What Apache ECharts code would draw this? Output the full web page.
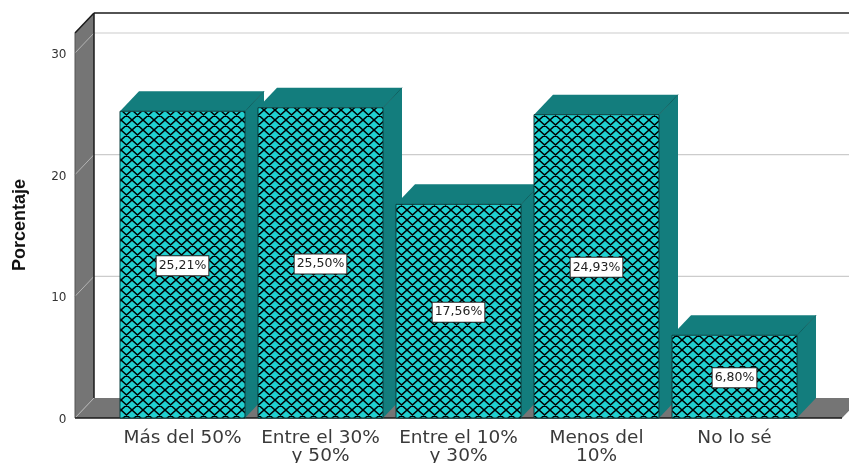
<!DOCTYPE html>
<html>
<head>
<meta charset="utf-8">
<style>html,body{margin:0;padding:0;background:#fff}#chart{width:849px;height:463px}</style>
<script src="https://cdn.jsdelivr.net/npm/echarts@6/dist/echarts.min.js"></script>
</head>
<body>
<div id="chart"></div>
<script>
// Survey answers and their share of respondents, in percent
const categories = ['Más del 50%', 'Entre el 30%\ny 50%', 'Entre el 10%\ny 30%', 'Menos del\n10%', 'No lo sé'];
const percentages = [25.21, 25.50, 17.56, 24.93, 6.80];
const gridTicks = [0, 10, 20, 30];

// Box styling and 3D extrusion, in pixels
const DEPTH_X = 19;
const DEPTH_Y = 20;
const WALL_MARGIN = 38.5;
const WALL_HEIGHT = 385;
const BAR_RATIO = 125 / 138;
const WALL_GREY = '#757575';
const FACE_TEAL = '#20d0d0';
const SIDE_TEAL = '#137d7d';
const EDGE = '#1a1a1a';

// Cross-hatched fill for the front face of each bar
function hatchPattern() {
  const w = 11, h = 10;
  const c = document.createElement('canvas');
  c.width = w; c.height = h;
  const g = c.getContext('2d');
  g.fillStyle = FACE_TEAL;
  g.fillRect(0, 0, w, h);
  g.strokeStyle = '#000';
  g.lineWidth = 1.5;
  g.beginPath();
  for (let k = -1; k <= 1; k++) {
    g.moveTo(k * w, 0); g.lineTo(k * w + w, h);
    g.moveTo(k * w + w, 0); g.lineTo(k * w, h);
  }
  g.stroke();
  return { image: c, repeat: 'repeat' };
}
const hatch = hatchPattern();

function poly(points, fill, stroke, lineWidth) {
  return {
    type: 'polygon',
    shape: { points },
    style: { fill, stroke: stroke || null, lineWidth: lineWidth || 0 }
  };
}
function line(x1, y1, x2, y2, stroke, lineWidth) {
  return {
    type: 'line',
    shape: { x1, y1, x2, y2 },
    style: { stroke, lineWidth, fill: null }
  };
}

// Left wall, floor and gridlines of the box behind the bars
function renderWalls(params, api) {
  const cs = params.coordSys;
  const left = cs.x - WALL_MARGIN;
  const right = cs.x + cs.width + WALL_MARGIN;
  const base = api.coord([0, 0])[1];
  const top = base - WALL_HEIGHT;
  const children = [
    poly([[left, base], [left + DEPTH_X, base - DEPTH_Y], [left + DEPTH_X, top - DEPTH_Y], [left, top]], WALL_GREY),
    poly([[left, base], [right, base], [right + DEPTH_X, base - DEPTH_Y], [left + DEPTH_X, base - DEPTH_Y]], WALL_GREY)
  ];
  gridTicks.forEach(function (v) {
    const y = api.coord([0, v])[1];
    children.push(line(left, y, left + DEPTH_X, y - DEPTH_Y, '#b4b4b4', 1));
    if (v > 0) children.push(line(left + DEPTH_X, y - DEPTH_Y, 849, y - DEPTH_Y, '#cccccc', 1.2));
  });
  children.push(
    line(left, top, left + DEPTH_X, top - DEPTH_Y, EDGE, 1.5),
    line(left, top, left, base, '#555', 1),
    line(left + DEPTH_X, top - DEPTH_Y, 849, top - DEPTH_Y, EDGE, 1.5),
    line(left + DEPTH_X, top - DEPTH_Y, left + DEPTH_X, base - DEPTH_Y, EDGE, 1.5),
    line(left, base, right, base, EDGE, 1.5)
  );
  return { type: 'group', children };
}

// One extruded bar with its value tag in the middle of the front face
function renderBar(params, api) {
  const value = api.value(1);
  const end = api.coord([api.value(0), value]);
  const base = api.coord([api.value(0), 0])[1];
  const w = api.size([1, 0])[0] * BAR_RATIO;
  const x0 = end[0] - w / 2, x1 = end[0] + w / 2, y = end[1];
  const text = value.toFixed(2).replace('.', ',') + '%';
  return {
    type: 'group',
    children: [
      poly([[x0, y], [x0 + DEPTH_X, y - DEPTH_Y], [x1 + DEPTH_X, y - DEPTH_Y], [x1, y]], SIDE_TEAL),
      poly([[x1, y], [x1 + DEPTH_X, y - DEPTH_Y], [x1 + DEPTH_X, base - DEPTH_Y], [x1, base]], SIDE_TEAL),
      line(x1, y, x1 + DEPTH_X, y - DEPTH_Y, '#0e6161', 1),
      {
        type: 'rect',
        shape: { x: x0, y, width: w, height: base - y },
        style: { fill: hatch, stroke: '#0b3c3c', lineWidth: 1 }
      },
      {
        type: 'text',
        style: {
          x: end[0],
          y: (y + base) / 2 + 1,
          text,
          align: 'center',
          verticalAlign: 'middle',
          font: '12.5px "DejaVu Sans"',
          fill: '#222',
          backgroundColor: '#fff',
          borderColor: '#222',
          borderWidth: 1,
          padding: [3, 2, 3, 2]
        }
      }
    ]
  };
}

const chart = echarts.init(document.getElementById('chart'), null, { renderer: 'canvas' });
chart.setOption({
  animation: false,
  backgroundColor: '#fff',
  grid: { left: 113.5, top: 53, width: 690, height: 365, outerBoundsMode: 'none' },
  xAxis: {
    type: 'category',
    data: categories,
    axisLine: { show: false },
    axisTick: { show: false },
    axisLabel: {
      margin: 11,
      interval: 0,
      fontFamily: 'DejaVu Sans',
      fontSize: 18.5,
      lineHeight: 18,
      color: '#3a3a3a'
    }
  },
  yAxis: {
    type: 'value',
    min: 0,
    max: 30,
    interval: 10,
    axisLine: { show: false },
    axisTick: { show: false },
    splitLine: { show: false },
    axisLabel: {
      margin: 47,
      fontFamily: 'DejaVu Sans',
      fontSize: 12,
      color: '#333',
      verticalAlign: 'top',
      lineHeight: 4
    }
  },
  graphic: [{
    type: 'text',
    x: 20,
    y: 225,
    rotation: Math.PI / 2,
    style: {
      text: 'Porcentaje',
      align: 'center',
      verticalAlign: 'middle',
      font: 'bold 18px "Liberation Sans"',
      fill: '#111'
    }
  }],
  series: [
    {
      type: 'custom',
      renderItem: renderWalls,
      clip: false,
      silent: true,
      data: [[0, 0]],
      z: 1
    },
    {
      type: 'custom',
      renderItem: renderBar,
      clip: false,
      data: percentages.map(function (v, i) { return [i, v]; }),
      encode: { x: 0, y: 1 },
      z: 2
    }
  ]
});
</script>
</body>
</html>
